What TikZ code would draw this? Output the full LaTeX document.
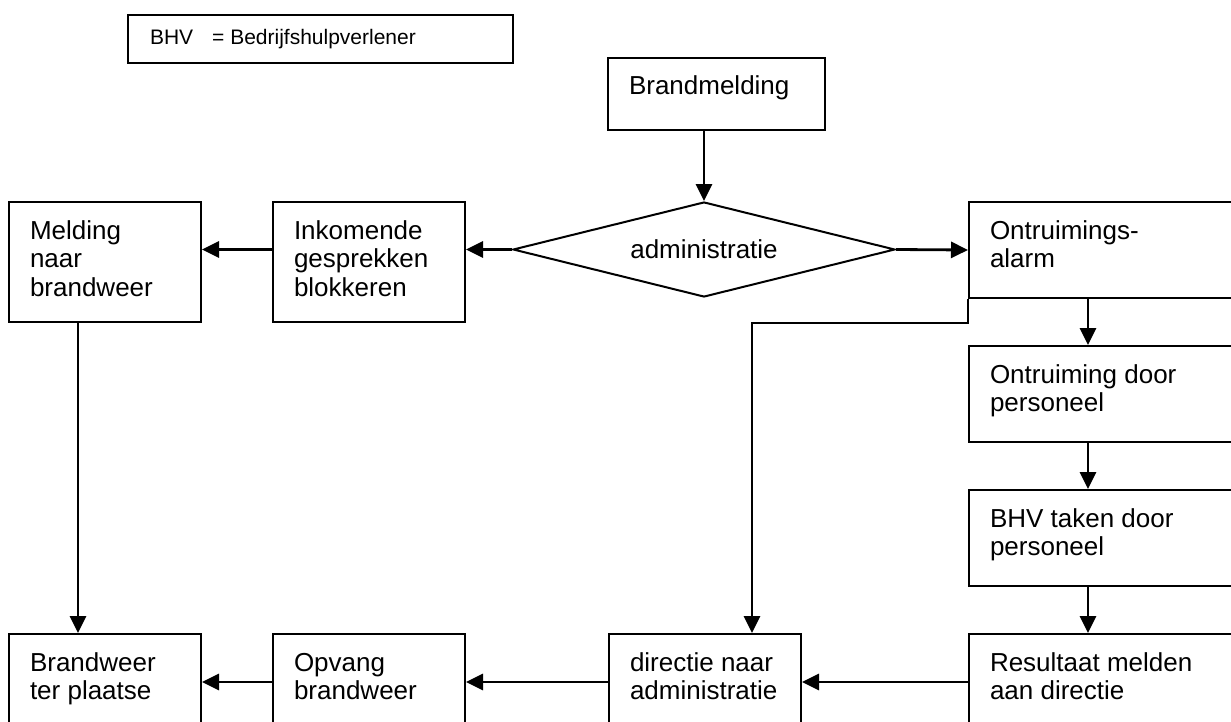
\documentclass[tikz,border=0pt]{standalone}
\usepackage{fontspec}
\setmainfont{Liberation Sans}
\usetikzlibrary{arrows.meta}
\usetikzlibrary{shapes.geometric}
\newcommand\stap[3]{\parbox[c][#2][t]{#1}{\raggedright\leftskip=10.5pt\rule{0pt}{18.5pt}#3}}
\newcommand\blok[1]{\stap{96pt}{48pt}{#1}}
\newcommand\hoog[1]{\stap{96pt}{60pt}{#1}}
\newcommand\breed[1]{\stap{160pt}{48pt}{#1}}
\tikzstyle{stap}=[draw,line width=1pt,anchor=north west,inner sep=0pt,font=\fontsize{13}{14.3}\selectfont]
\tikzstyle{keuze}=[draw,line width=1pt,diamond,shape aspect=4,minimum width=191pt,minimum height=47.5pt,inner sep=0pt,font=\fontsize{13}{14.3}\selectfont]
\tikzstyle{legenda}=[draw,line width=1pt,anchor=north west,inner sep=0pt,font=\fontsize{10.5}{12}\selectfont]
\tikzstyle{pijl}=[line width=1.4pt,-{Triangle[length=8.5pt,width=8pt]}]
\begin{document}
\begin{tikzpicture}[x=0.5pt,y=-0.5pt]
	\useasboundingbox (0,0) rectangle (1231,722);
	\clip (0,0) rectangle (1231,722);
	% legenda
	\node[legenda] (bhv-uitleg) at (127,14) {\parbox[c][24pt][c]{192.5pt}{\hspace*{11pt}BHV\hspace{9.5pt}= Bedrijfshulpverlener}};
	% stappen
	\node[stap] (brand)     at (607,57)  {\stap{108.5pt}{36pt}{Brandmelding}};
	\node[keuze] (admin)    at (704,249.5) {administratie};
	\node[stap] (melding)   at (8,201)   {\hoog{Melding\\naar\\brandweer}};
	\node[stap] (inkomend)  at (272,201) {\hoog{Inkomende\\gesprekken\\blokkeren}};
	\node[stap] (alarm)     at (968,201) {\breed{Ontruimings-\\alarm}};
	\node[stap] (ontruim)   at (968,345) {\breed{Ontruiming door\\personeel}};
	\node[stap] (taken)     at (968,489) {\breed{BHV taken door\\personeel}};
	\node[stap] (resultaat) at (968,633) {\breed{Resultaat melden\\aan directie}};
	\node[stap] (directie)  at (608,633) {\blok{directie naar\\administratie}};
	\node[stap] (opvang)    at (272,633) {\blok{Opvang\\brandweer}};
	\node[stap] (plaatse)   at (8,633)   {\blok{Brandweer\\ter plaatse}};
	% pijlen
	\draw[pijl] (admin.north |- brand.south) -- (admin.north);
	\draw[pijl] (admin.west) -- (admin.west -| inkomend.east);
	\draw[pijl] (admin.west -| inkomend.west) -- (admin.west -| melding.east);
	\draw[pijl] (admin.east) -- (alarm.west);
	\draw[pijl] ([xshift=60pt]alarm.south west) -- ([xshift=60pt]ontruim.north west);
	\draw[pijl] ([xshift=60pt]ontruim.south west) -- ([xshift=60pt]taken.north west);
	\draw[pijl] ([xshift=60pt]taken.south west) -- ([xshift=60pt]resultaat.north west);
	\draw[pijl] (alarm.south west) -- ++(0,24) -| ([xshift=72pt]directie.north west);
	\draw[pijl] ([xshift=35pt]melding.south west) -- ([xshift=35pt]plaatse.north west);
	\draw[pijl] (resultaat.west) -- (directie.east);
	\draw[pijl] (directie.west) -- (opvang.east);
	\draw[pijl] (opvang.west) -- (plaatse.east);
\end{tikzpicture}
\end{document}
